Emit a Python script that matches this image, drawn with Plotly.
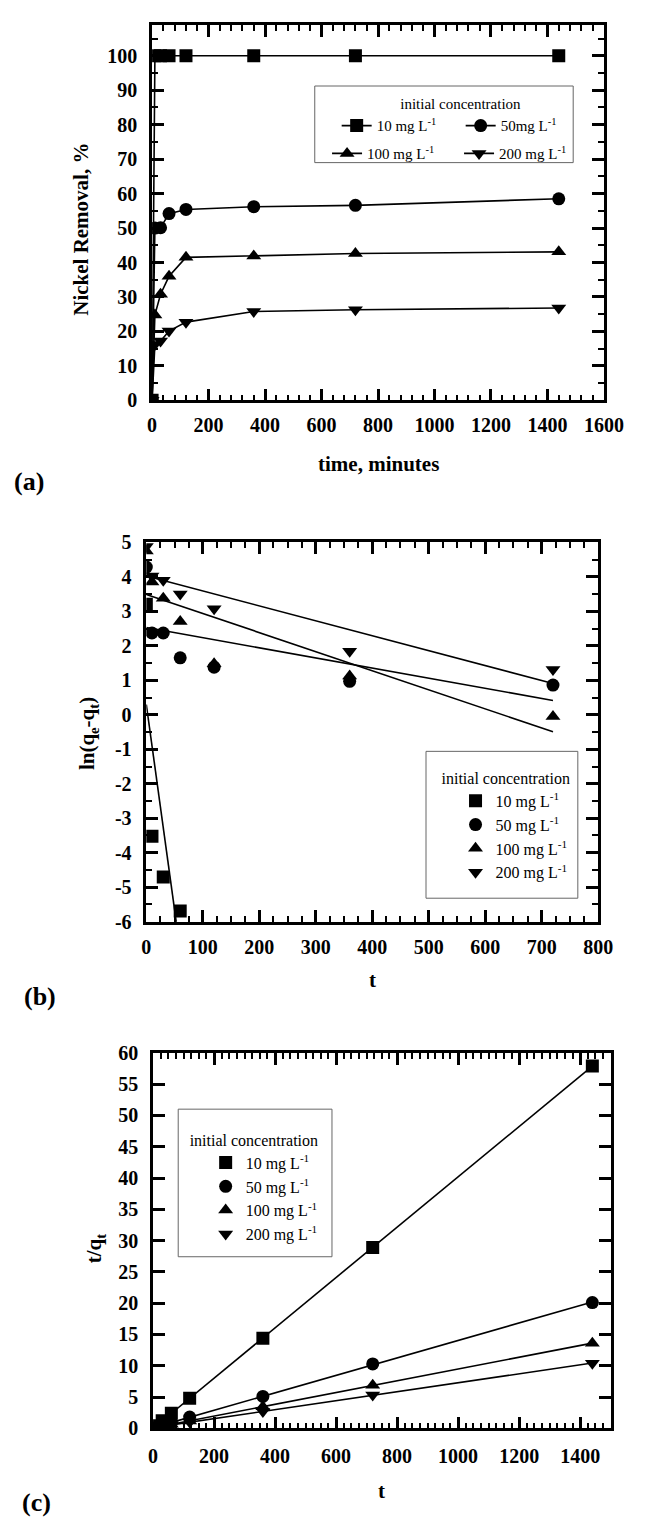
import numpy as np
import plotly.graph_objects as go

# ---------------- data ----------------
# (a) removal vs time
time_a = [0, 10, 30, 60, 120, 360, 720, 1440]
rem_10 = [0, 100, 100, 100, 100, 100, 100, 100]
rem_50 = [0, 50.0, 50.1, 54.2, 55.4, 56.2, 56.6, 58.5]
rem_100 = [0, 24.8, 30.8, 36.0, 41.5, 41.9, 42.6, 43.1]
rem_200 = [0, 16.2, 17.2, 20.1, 22.7, 25.8, 26.3, 26.8]

# (b) pseudo-first order ln(qe-qt) vs t
t_b10 = [0, 10, 30, 60]
ln_10 = [3.2, -3.52, -4.70, -5.69]
t_b = [0, 10, 30, 60, 120, 360, 720]
ln_50 = [4.28, 2.37, 2.37, 1.65, 1.38, 0.97, 0.86]
ln_100 = [4.75, 3.85, 3.38, 2.70, 1.48, 1.12, -0.05]
ln_200 = [4.88, 4.02, 3.90, 3.50, 3.07, 1.84, 1.31]
ticks_b_y = [-6, -5, -4, -3, -2, -1, 0, 1, 2, 3, 4, 5]
labels_b_y = ["-6", "-5", "-4", "-3", "-2", "-1", "0", "1", "2", "3", "4", "5"]

# (c) pseudo-second order t/qt vs t
t_c = [10, 30, 60, 120, 360, 720, 1440]
tq_10 = [0.40, 1.20, 2.40, 4.80, 14.4, 28.9, 57.9]
tq_50 = [0.16, 0.49, 0.95, 1.80, 5.10, 10.3, 20.1]
tq_100 = [0.16, 0.39, 0.67, 1.17, 3.45, 6.90, 13.6]
tq_200 = [0.12, 0.34, 0.58, 1.02, 2.70, 5.35, 10.4]

names_a = ["10 mg L<sup>-1</sup>", "50mg L<sup>-1</sup>",
           "100 mg L<sup>-1</sup>", "200 mg L<sup>-1</sup>"]
names_bc = ["10 mg L<sup>-1</sup>", "50 mg L<sup>-1</sup>",
            "100 mg L<sup>-1</sup>", "200 mg L<sup>-1</sup>"]
symbols = ["square", "circle", "triangle-up", "triangle-down"]

# ---------------- style ----------------
W, H = 647, 1533
FONT = "Liberation Serif, Times New Roman, serif"
MS = 13


def fx(p):
    return p / W


def fy(p):
    return 1 - p / H


fig = go.Figure()

# panel (a)
series_a = [rem_10, rem_50, rem_100, rem_200]
legends_a = ["legend", "legend", "legend2", "legend2"]
for vals, nm, sym, lg in zip(series_a, names_a, symbols, legends_a):
    fig.add_trace(go.Scatter(
        x=time_a, y=vals, name=nm, mode="lines+markers",
        line=dict(color="black", width=1.6),
        marker=dict(symbol=sym, size=MS, color="black"),
        xaxis="x", yaxis="y", legend=lg))

# panel (b)
series_b = [(t_b10, ln_10), (t_b, ln_50), (t_b, ln_100), (t_b, ln_200)]
for (tt, vals), nm, sym in zip(series_b, names_bc, symbols):
    fig.add_trace(go.Scatter(
        x=tt, y=vals, name=nm, mode="markers",
        marker=dict(symbol=sym, size=MS, color="black"),
        xaxis="x2", yaxis="y2", legend="legend3"))
for tt, vals in series_b:
    k, b0 = np.polyfit(tt, vals, 1)
    xs = [min(tt), max(tt)]
    fig.add_trace(go.Scatter(
        x=xs, y=[k * v + b0 for v in xs], mode="lines",
        line=dict(color="black", width=1.6), showlegend=False,
        xaxis="x2", yaxis="y2", hoverinfo="skip"))

# panel (c)
series_c = [tq_10, tq_50, tq_100, tq_200]
for vals, nm, sym in zip(series_c, names_bc, symbols):
    fig.add_trace(go.Scatter(
        x=t_c, y=vals, name=nm, mode="markers",
        marker=dict(symbol=sym, size=MS, color="black"),
        xaxis="x3", yaxis="y3", legend="legend4"))
for vals in series_c:
    k, b0 = np.polyfit(t_c, vals, 1)
    xs = [min(t_c), max(t_c)]
    fig.add_trace(go.Scatter(
        x=xs, y=[k * v + b0 for v in xs], mode="lines",
        line=dict(color="black", width=1.6), showlegend=False,
        xaxis="x3", yaxis="y3", hoverinfo="skip"))

tickfont = dict(family=FONT, size=20, color="black", weight="bold")


def ax(domain, rng, dtick, minor_dtick, anchor, standoff):
    d = dict(domain=domain, range=rng, dtick=dtick, tick0=0, anchor=anchor,
             showline=True, linewidth=2.5, linecolor="black", mirror="allticks",
             ticks="inside", ticklen=12, tickwidth=2.5, tickcolor="black",
             showgrid=False, zeroline=False, tickfont=tickfont,
             ticklabelstandoff=standoff, fixedrange=True)
    if minor_dtick:
        d["minor"] = dict(ticks="inside", ticklen=6, tickwidth=2,
                          tickcolor="black", dtick=minor_dtick, showgrid=False)
    return d


yaxis2 = ax([fy(924), fy(539)], [-6, 5], 1, 0.5, "x2", 8)
yaxis2.update(tickmode="array", tickvals=ticks_b_y, ticktext=labels_b_y)

fig.update_layout(
    width=W, height=H, margin=dict(l=0, r=0, t=0, b=0),
    paper_bgcolor="white", plot_bgcolor="white", showlegend=True,
    xaxis=ax([fx(153), fx(623)], [0, 1600], 200, 40, "y", 5),
    yaxis=ax([fy(395), fy(14)], [0, 109], 10, 5, "x", 8),
    xaxis2=ax([fx(147), fx(617)], [0, 800], 100, 25, "y2", 6),
    yaxis2=yaxis2,
    xaxis3=ax([fx(154), fx(630)], [0, 1500], 200, 25, "y3", 8),
    yaxis3=ax([fy(1438), fy(1057)], [0, 60], 5, None, "x3", 8),
)

leg_font = dict(family=FONT, size=15, color="black")
leg_font16 = dict(family=FONT, size=16, color="black")
fig.update_layout(
    legend=dict(orientation="h", x=fx(345), xanchor="left", y=fy(80), yanchor="top",
                title=dict(text="initial concentration", side="top center", font=leg_font),
                font=leg_font, entrywidth=79, entrywidthmode="pixels",
                bgcolor="rgba(0,0,0,0)", borderwidth=0),
    legend2=dict(orientation="h", x=fx(335), xanchor="left", y=fy(128), yanchor="top",
                 font=leg_font, entrywidth=87, entrywidthmode="pixels",
                 bgcolor="rgba(0,0,0,0)", borderwidth=0),
    legend3=dict(x=fx(452), xanchor="left", y=fy(763), yanchor="top",
                 title=dict(text="initial concentration", side="top", font=leg_font16),
                 font=leg_font16, indentation=16,
                 bgcolor="rgba(0,0,0,0)", borderwidth=0),
    legend4=dict(x=fx(190), xanchor="left", y=fy(1130), yanchor="top",
                 title=dict(text="initial concentration", side="top", font=leg_font16),
                 font=leg_font16, indentation=18,
                 bgcolor="rgba(0,0,0,0)", borderwidth=0),
)

# legend frames
box = dict(type="rect", line=dict(color="#666666", width=1), fillcolor="rgba(0,0,0,0)", layer="above")
fig.add_shape(xref="x domain", yref="y domain", x0=0.36, x1=0.932, y0=0.633, y1=0.837, **box)
fig.add_shape(xref="x2 domain", yref="y2 domain", x0=0.619, x1=0.955, y0=0.062, y1=0.449, **box)
fig.add_shape(xref="x3 domain", yref="y3 domain", x0=0.055, x1=0.391, y0=0.457, y1=0.850, **box)

# titles and panel labels
ttl = dict(family=FONT, size=21, color="black", weight="bold")
lab = dict(family=FONT, size=26, color="black", weight="bold")
ann = [
    ("Nickel Removal, %", 79, 221, -90, ttl),
    ("time, minutes", 388, 460, 0, ttl),
    ("(a)", 25, 477, 0, lab),
    ("ln(q<sub>e</sub>-q<sub>t</sub>)", 87, 733, -90, ttl),
    ("t", 382, 983, 0, ttl),
    ("(b)", 36, 1000, 0, lab),
    ("t/q<sub>t</sub>", 94, 1255, -90, ttl),
    ("t", 392, 1502, 0, ttl),
    ("(c)", 33, 1513, 0, lab),
]
for text, x, y, ang, f in ann:
    fig.add_annotation(text=text, x=fx(x), y=fy(y), xref="paper", yref="paper",
                       xanchor="center", yanchor="middle", showarrow=False,
                       textangle=ang, font=f)

fig.write_html("out.html")
